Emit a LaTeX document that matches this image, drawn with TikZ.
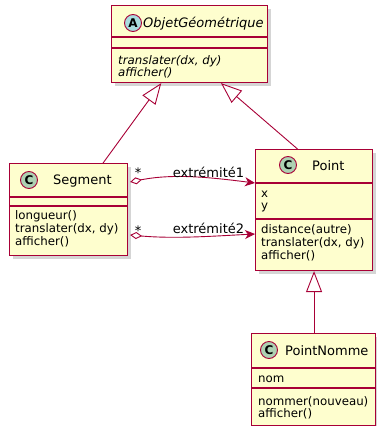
\documentclass[tikz,border=0pt]{standalone}
\usepackage{fontspec}
\setmainfont{DejaVu Sans}
\usetikzlibrary{arrows.meta,calc,shadows}
\definecolor{umlfill}{HTML}{FEFECE}
\definecolor{umlborder}{HTML}{A80036}
\definecolor{cgreen}{HTML}{ADD1B2}
\definecolor{ablue}{HTML}{A9DCDF}
\begin{document}
\begin{tikzpicture}[x=1pt,y=-1pt,
  classbox/.style={draw=umlborder, fill=umlfill, line width=1.1pt, inner sep=0pt, anchor=north west,
    drop shadow={shadow xshift=3pt, shadow yshift=-3pt, opacity=0.3, fill=black!55}},
  sepline/.style={draw=umlborder, line width=1.1pt},
  icon/.style={circle, draw=umlborder, line width=0.9pt, minimum size=17pt, inner sep=0pt,
    font=\bfseries\fontsize{12}{12}\selectfont},
  cname/.style={anchor=base west, inner sep=0pt, font=\fontsize{13}{15}\selectfont},
  member/.style={anchor=base west, inner sep=0pt, font=\fontsize{11.8}{13}\selectfont},
  imember/.style={member, font=\itshape\fontsize{11.8}{13}\selectfont},
  lbl/.style={anchor=base, inner sep=0pt, font=\fontsize{13}{15}\selectfont},
  inherit/.style={draw=umlborder, line width=0.9pt, -{Triangle[open, fill=white, length=21pt, width=16pt]}},
  assoc/.style={draw=umlborder, line width=0.9pt,
    {Diamond[fill=white, length=12pt, width=7pt]}-{Stealth[length=10pt, width=9pt, inset=3pt]}}
]
\useasboundingbox (0,0) rectangle (377,426);

% ObjetGeometrique
\node[classbox, minimum width=156pt, minimum height=77pt] (obj) at (111,5) {};
\draw[sepline] (111,37) -- (267,37);
\draw[sepline] (111,48) -- (267,48);
\node[icon, fill=ablue] (objI) at (133,23) {A};
\node[cname, font=\itshape\fontsize{13}{15}\selectfont] (objN) at (143,27.5) {ObjetGéométrique};
\node[imember] (objM1) at (118,64) {translater(dx, dy)};
\node[imember] (objM2) at (118,76) {afficher()};

% Segment
\node[classbox, minimum width=118pt, minimum height=92pt] (seg) at (9,163) {};
\draw[sepline] (9,197) -- (127,197);
\draw[sepline] (9,206) -- (127,206);
\node[icon, fill=cgreen] (segI) at (29,180) {C};
\node[cname] (segN) at (53,184) {Segment};
\node[member] (segM1) at (15,219.5) {longueur()};
\node[member] (segM2) at (15,232.5) {translater(dx, dy)};
\node[member] (segM3) at (15,245.5) {afficher()};

% Point
\node[classbox, minimum width=117pt, minimum height=121pt] (pt) at (255,149) {};
\draw[sepline] (255,183) -- (372,183);
\draw[sepline] (255,219) -- (372,219);
\node[icon, fill=cgreen] (ptI) at (288,165) {C};
\node[cname] (ptN) at (312,170.5) {Point};
\node[member] (ptA1) at (261,197) {x};
\node[member] (ptA2) at (261,209.5) {y};
\node[member] (ptM1) at (261,233.5) {distance(autre)};
\node[member] (ptM2) at (261,246.5) {translater(dx, dy)};
\node[member] (ptM3) at (261,259) {afficher()};

% PointNomme
\node[classbox, minimum width=124pt, minimum height=92pt] (pn) at (251,333) {};
\draw[sepline] (251,368) -- (375,368);
\draw[sepline] (251,388) -- (375,388);
\node[icon, fill=cgreen] (pnI) at (269,350) {C};
\node[cname] (pnN) at (285,355) {PointNomme};
\node[member] (pnA1) at (258,382) {nom};
\node[member] (pnM1) at (258,405) {nommer(nouveau)};
\node[member] (pnM2) at (258,417) {afficher()};

% inheritance
\draw[inherit] ($(seg.north west)!0.79!(seg.north east)$) -- ($(obj.south west)!0.32!(obj.south east)$);
\draw[inherit] ($(pt.north west)!0.36!(pt.north east)$) -- ($(obj.south west)!0.70!(obj.south east)$);
\draw[inherit] (pn.north -| pt.south) -- (pt.south);

% associations
\coordinate (a1s) at ($(seg.north east)+(2,19)$);
\coordinate (a1e) at ($(pt.north west)+(0,34)$);
\coordinate (a2s) at ($(seg.north east)+(2,72)$);
\coordinate (a2e) at ($(pt.north west)+(0,85)$);
\draw[assoc] (a1s) .. controls +(45,-9) and +(-40,-5) .. (a1e);
\draw[assoc] (a2s) .. controls +(45,4) and +(-40,2) .. (a2e);

\node[lbl] (m1) at (138,177.7) {*};
\node[lbl] (m2) at (138,235) {*};
\node[lbl] (l1) at (208.5,177.5) {extrémité1};
\node[lbl] (l2) at (208.5,233) {extrémité2};
\end{tikzpicture}
\end{document}
